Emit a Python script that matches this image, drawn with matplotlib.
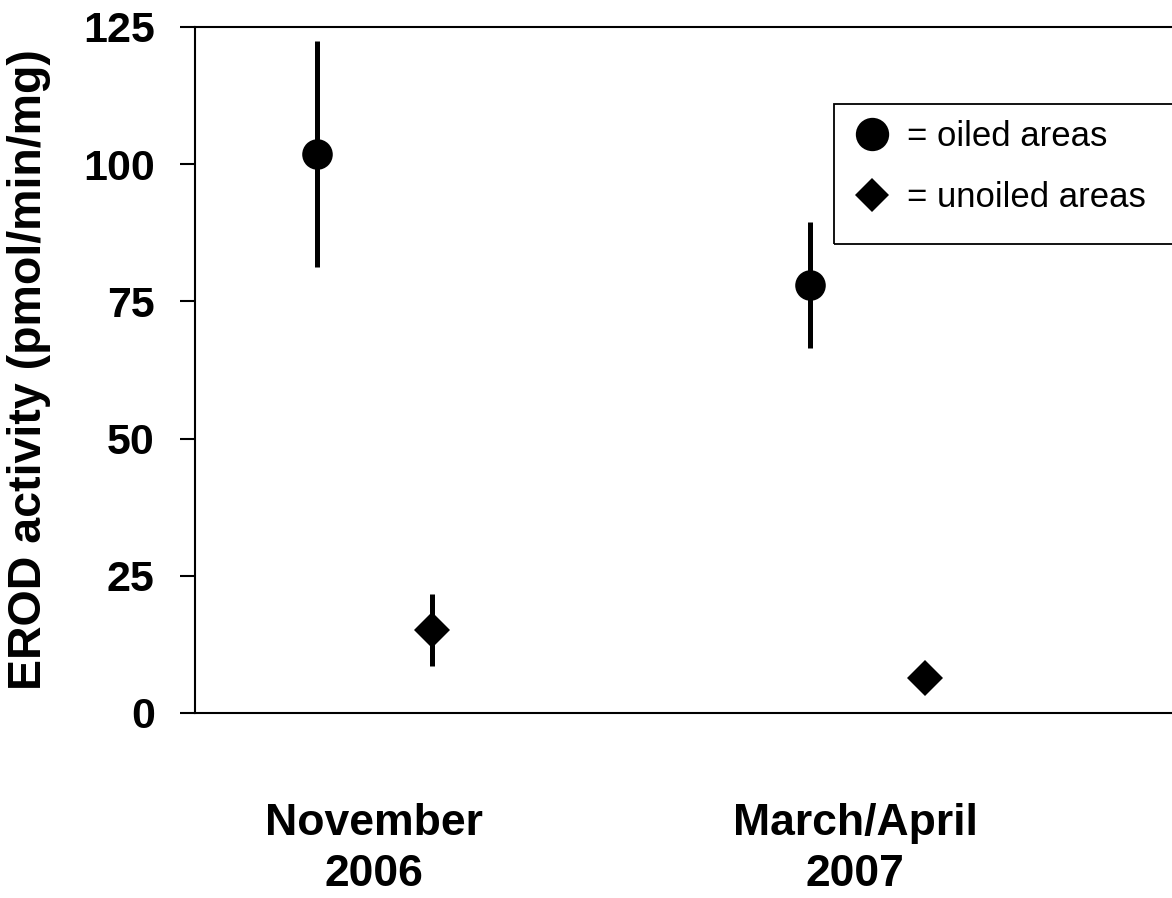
import matplotlib.pyplot as plt
from matplotlib.lines import Line2D
from matplotlib.patches import Rectangle

# Sampling periods on the x axis.
periods = ['November\n2006', 'March/April\n2007']
group_pos = [1, 2]
label_pos = [1.0, 1.975]
offset = 0.1166

# EROD activity, mean and error (pmol/min/mg).
oiled_mean = [101.9, 78.0]
oiled_err = [20.6, 11.5]
unoiled_mean = [15.1, 6.4]
unoiled_err = [6.6, 0.0]

y_ticks = [0, 25, 50, 75, 100, 125]

plt.rcParams['font.family'] = ['Liberation Sans', 'DejaVu Sans']

fig = plt.figure(figsize=(11.72, 8.98), dpi=100)
ax = fig.add_axes([195 / 1172, 1 - 713 / 898, 1 - 195 / 1172, 686 / 898])

oiled_x = [p - offset for p in group_pos]
unoiled_x = [p + offset for p in group_pos]

ax.errorbar(oiled_x, oiled_mean, yerr=oiled_err, fmt='o', color='black',
            markersize=22, elinewidth=3.6, capsize=0, markeredgewidth=0)
ax.errorbar(unoiled_x, unoiled_mean, yerr=unoiled_err, fmt='D', color='black',
            markersize=18.5, elinewidth=3.6, capsize=0, markeredgewidth=0)

ax.set_xlim(0.636, 2.618)
ax.set_ylim(0, 125)
ax.set_yticks(y_ticks)
ax.tick_params(axis='y', direction='out', length=11, width=1.5,
               labelsize=31, pad=18)
for lbl in ax.get_yticklabels():
    lbl.set_fontweight('bold')

ax.set_xticks(label_pos)
ax.set_xticklabels(periods, fontsize=32, fontweight='bold', linespacing=1.3)
ax.tick_params(axis='x', length=0, pad=65)

ax.set_ylabel('EROD activity (pmol/min/mg)', fontsize=33.5, fontweight='bold')
ax.yaxis.set_label_coords(-0.147, 0.5)

for side in ['left', 'top', 'bottom']:
    ax.spines[side].set_linewidth(1.5)
ax.spines['right'].set_visible(False)

# Legend: proxy markers without the error bars, box runs off the right edge.
handles = [
    Line2D([], [], marker='o', linestyle='none', color='black',
           markersize=24, markeredgewidth=0),
    Line2D([], [], marker='D', linestyle='none', color='black',
           markersize=17, markeredgewidth=0),
]
ax.legend(handles, ['= oiled areas', '= unoiled areas'], loc='upper left',
          bbox_to_anchor=(851 / 1172, 1 - 117 / 898),
          bbox_transform=fig.transFigure, frameon=False, fontsize=25,
          handlelength=1.0, handletextpad=0.5, labelspacing=0.8,
          borderpad=0.0, borderaxespad=0.1)
fig.patches.append(Rectangle((834 / 1172, 1 - 244 / 898), 0.4, 140 / 898,
                             transform=fig.transFigure, fill=False,
                             edgecolor='black', linewidth=1.3))

fig.savefig('out.png', dpi=100)
